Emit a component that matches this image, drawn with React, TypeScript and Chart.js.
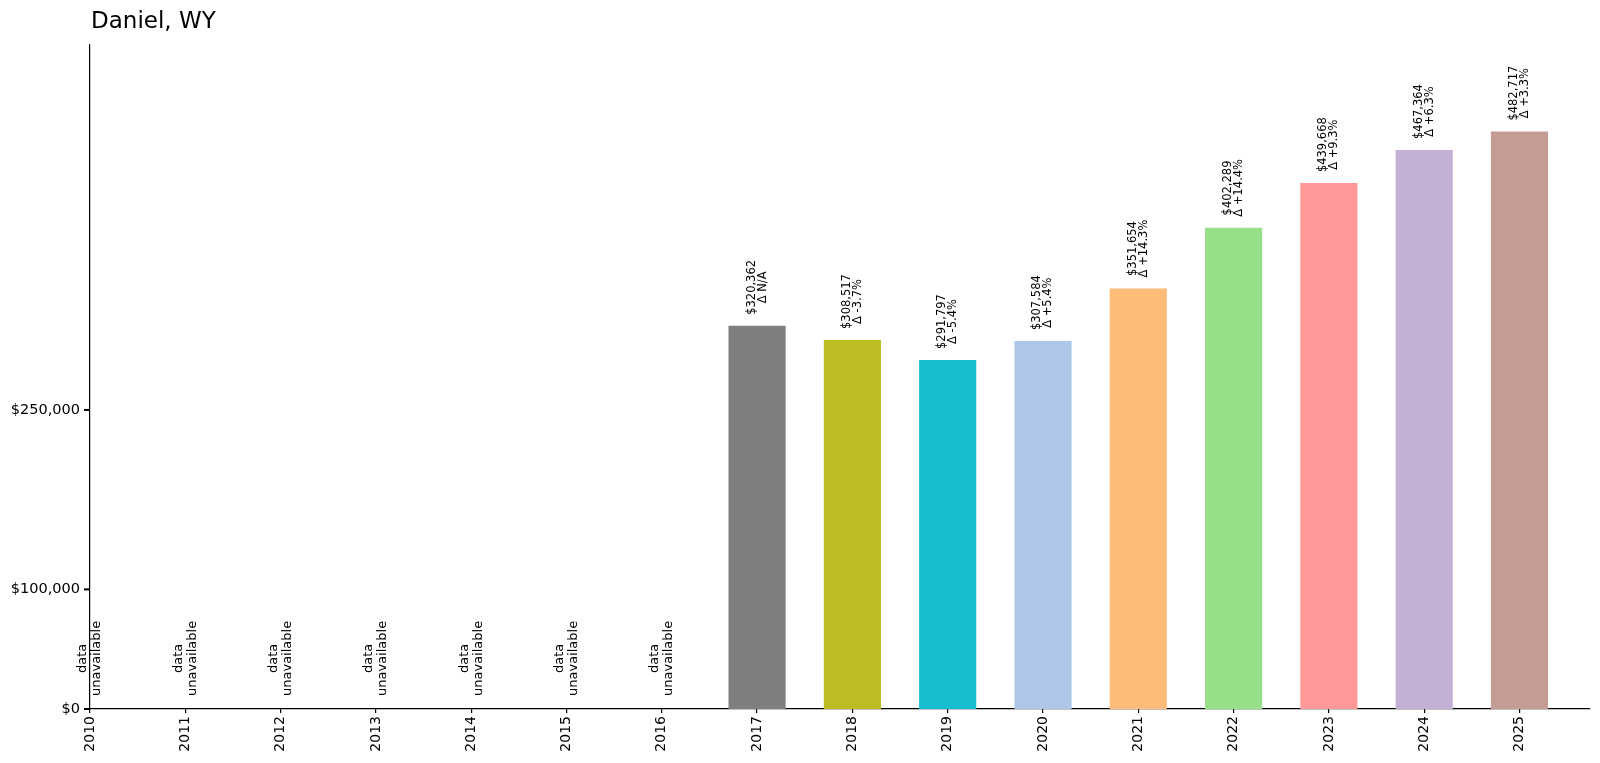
import React, { useEffect, useRef } from "react";
import { Chart, registerables } from "chart.js";

Chart.register(...registerables);

// data (null = data unavailable)
const years = [2010, 2011, 2012, 2013, 2014, 2015, 2016, 2017, 2018, 2019, 2020, 2021, 2022, 2023, 2024, 2025];
const values: (number | null)[] = [
  null, null, null, null, null, null, null,
  320362, 308517, 291797, 307584, 351654, 402289, 439668, 467364, 482717,
];
const barColors = [
  "#1f77b4", "#aec7e8", "#ff7f0e", "#ffbb78", "#2ca02c", "#98df8a", "#d62728",
  "#7f7f7f", "#bcbd22", "#17becf", "#aec7e8", "#ffbb78", "#98df8a", "#ff9896", "#c5b0d5", "#c49c94",
];
const yTickValues = [0, 100000, 250000];
const chartTitle = "Daniel, WY";

const FONT = "'DejaVu Sans', sans-serif";
const money = (v: number) => "$" + Math.round(v).toLocaleString("en-US");

function deltaLabel(i: number): string {
  const prev = i > 0 ? values[i - 1] : null;
  const cur = values[i];
  if (prev == null || cur == null) return "Δ N/A";
  const pct = (cur / prev - 1) * 100;
  return "Δ " + (pct >= 0 ? "+" : "") + pct.toFixed(1) + "%";
}

// draws a vertical (bottom-to-top) multi-line block, lines centred on each other
function drawVerticalBlock(
  ctx: CanvasRenderingContext2D,
  lines: string[],
  cx: number,
  bottom: number,
  size: number,
  spacing: number
) {
  ctx.save();
  ctx.font = `${size}px ${FONT}`;
  ctx.fillStyle = "#000";
  const w = Math.max(...lines.map((l) => ctx.measureText(l).width));
  ctx.translate(cx, bottom);
  ctx.rotate(-Math.PI / 2);
  ctx.textAlign = "center";
  ctx.textBaseline = "middle";
  const n = lines.length;
  lines.forEach((l, k) => {
    ctx.fillText(l, w / 2, (k - (n - 1) / 2) * spacing);
  });
  ctx.restore();
}

const labelPlugin = {
  id: "barLabels",
  afterDatasetsDraw(chart: any) {
    const { ctx, scales } = chart;
    const xs = scales.x;
    const ys = scales.y;
    values.forEach((v, i) => {
      const cx = xs.getPixelForValue(i);
      if (v == null) {
        drawVerticalBlock(ctx, ["data", "unavailable"], cx, ys.getPixelForValue(0) - 13, 13, 14);
      } else {
        drawVerticalBlock(ctx, [money(v), deltaLabel(i)], cx, ys.getPixelForValue(v) - 11, 11.5, 11);
      }
    });
  },
};

// y tick marks on the left spine, plus the title
const decorPlugin = {
  id: "decor",
  afterDraw(chart: any) {
    const ctx: CanvasRenderingContext2D = chart.ctx;
    const left: number = chart.chartArea.left;
    ctx.save();
    ctx.fillStyle = "#000";
    yTickValues.forEach((v) => {
      const y = chart.scales.y.getPixelForValue(v);
      ctx.fillRect(left - 6, y - 1, 6, 2);
    });
    ctx.font = `23px ${FONT}`;
    ctx.textAlign = "left";
    ctx.textBaseline = "alphabetic";
    ctx.fillText(chartTitle, 91, 28);
    ctx.restore();
  },
};

export default function App() {
  const canvasRef = useRef<HTMLCanvasElement>(null);

  useEffect(() => {
    document.body.style.margin = "0";
    if (!canvasRef.current) return;
    const maxVal = Math.max(...(values.filter((v) => v != null) as number[]));
    const chart = new Chart(canvasRef.current, {
      type: "bar",
      data: {
        datasets: [
          {
            data: years.map((_, i) => ({ x: i, y: values[i] })) as any,
            backgroundColor: barColors,
            borderWidth: 0,
            barPercentage: 0.6,
            categoryPercentage: 1,
          },
        ],
      },
      options: {
        animation: false,
        responsive: true,
        maintainAspectRatio: false,
        layout: { padding: { top: 45, right: 10, left: 0, bottom: 0 } },
        plugins: { legend: { display: false }, tooltip: { enabled: false }, title: { display: false } },
        scales: {
          x: {
            type: "linear",
            min: 0,
            max: 15.74,
            offset: false,
            afterBuildTicks: (axis: any) => {
              axis.ticks = years.map((_, i) => ({ value: i }));
            },
            afterFit: (axis: any) => {
              axis.height = 54;
            },
            ticks: {
              callback: (v: any) => String(years[Math.round(Number(v))]),
              minRotation: 90,
              maxRotation: 90,
              autoSkip: false,
              color: "#000",
              padding: 3,
              font: { family: FONT, size: 14 },
            },
            grid: {
              display: true,
              offset: false,
              drawOnChartArea: false,
              drawTicks: true,
              tickLength: 4,
              color: "#000",
              lineWidth: 1.2,
            },
            border: { display: true, color: "#000", width: 1.2 },
          },
          y: {
            min: 0,
            max: maxVal * 1.15,
            afterBuildTicks: (axis: any) => {
              axis.ticks = yTickValues.map((v) => ({ value: v }));
            },
            afterFit: (axis: any) => {
              axis.width = 90;
            },
            ticks: {
              callback: (v: any) => money(Number(v)),
              color: "#000",
              padding: 10,
              font: { family: FONT, size: 14.5 },
            },
            grid: { display: false, drawTicks: false },
            border: { display: true, color: "#000", width: 1.2 },
          },
        },
      },
      plugins: [labelPlugin, decorPlugin],
    });
    return () => {
      chart.destroy();
    };
  }, []);

  return (
    <div style={{ width: 1600, height: 763, position: "relative", background: "#fff" }}>
      <canvas ref={canvasRef} />
    </div>
  );
}
